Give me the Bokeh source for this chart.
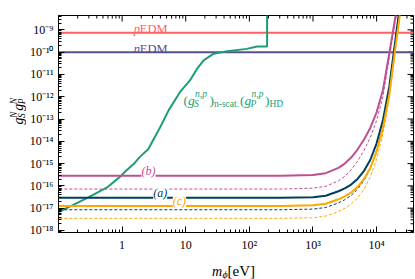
from math import pi
from bokeh.plotting import figure
from bokeh.layouts import column, row
from bokeh.models import Label, FixedTicker, CustomJSTickFormatter, Range1d
from bokeh.embed import file_html
from bokeh.resources import INLINE

# ---------------- data ----------------
edm_x = [0.05, 1e5]
pedm_y = [7.4e-10, 7.4e-10]
nedm_y = [1.0e-10, 1.0e-10]

green_x = [0.098, 0.29, 0.60, 0.93, 1.12, 1.58, 1.9, 2.57, 4.0, 5.4, 8.1, 11.7,
           15.1, 19.1, 27.5, 44.7, 91, 132, 190, 190]
green_y = [6.5e-18, 2.95e-17, 9.1e-17, 2.6e-16, 4.4e-16, 1.07e-15, 2.0e-15, 4.4e-15,
           4.5e-14, 2.5e-13, 1.6e-12, 5.5e-12, 1.8e-11, 4.3e-11, 8.5e-11, 1.1e-10,
           1.4e-10, 1.78e-10, 1.78e-10, 1e-7]

mass = [0.05, 316, 1000, 1585, 2512, 3162, 3981, 5012, 6310, 7943, 10000, 12589,
        15849, 19953, 25119]
b_solid = [2.82e-16, 2.82e-16, 3.09e-16, 3.72e-16, 6.46e-16, 1.0e-15, 1.86e-15,
           4.27e-15, 1.17e-14, 3.98e-14, 2.0e-13, 2.0e-12, 8.9e-11, 4.5e-9, 2.8e-7]
b_dashed = [7.2e-17, 7.2e-17, 7.9e-17, 9.5e-17, 1.68e-16, 2.69e-16, 5.25e-16,
            1.29e-15, 3.8e-15, 1.45e-14, 8.5e-14, 1.02e-12, 5.75e-11, 3.6e-9, 2.75e-7]
a_solid = [2.9e-17, 2.9e-17, 3.1e-17, 3.6e-17, 5.75e-17, 7.8e-17, 1.15e-16, 2.04e-16,
           4.6e-16, 1.45e-15, 8.1e-15, 9.1e-14, 2.9e-12, 4.6e-10, 5.8e-8]
a_dashed = [8.5e-18, 8.5e-18, 9.1e-18, 1.07e-17, 1.72e-17, 2.4e-17, 3.7e-17, 7.1e-17,
            1.7e-16, 6.0e-16, 4.0e-15, 5.4e-14, 2.14e-12, 4.3e-10, 6.5e-8]
c_solid = [1.26e-17, 1.26e-17, 1.35e-17, 1.58e-17, 2.5e-17, 3.4e-17, 5.0e-17, 8.9e-17,
           2.0e-16, 6.3e-16, 3.55e-15, 4.0e-14, 1.26e-12, 2.0e-10, 2.5e-8]
c_dashed = [3.5e-18, 3.5e-18, 3.7e-18, 4.4e-18, 7.0e-18, 9.8e-18, 1.51e-17, 2.9e-17,
            6.9e-17, 2.45e-16, 1.62e-15, 2.2e-14, 8.7e-13, 1.74e-10, 2.6e-8]

x_major = [1, 10, 100, 1000, 10000]
y_major = [1e-18, 1e-17, 1e-16, 1e-15, 1e-14, 1e-13, 1e-12, 1e-11, 1e-10, 1e-9]

XMIN, XMAX = 0.1, 3.8e4
YMIN, YMAX = 8.1e-19, 4.4e-9

C_A = "#003f5c"
C_B = "#bc5090"
C_C = "#ffa600"
C_P = "#ff6361"
C_N = "#58508d"
C_G = "#1b9e77"
FONT = "Liberation Serif"

x_minor = [k * 10.0 ** e for e in range(-1, 5) for k in range(2, 10)]
y_minor = [k * 10.0 ** e for e in range(-19, -8) for k in range(2, 10)]

fmt_code = """
const e = Math.round(Math.log10(tick));
if (e === 0) return "1";
if (e === 1) return "10";
const m = {"-":"\u207b","0":"\u2070","1":"\u00b9","2":"\u00b2","3":"\u00b3","4":"\u2074",
           "5":"\u2075","6":"\u2076","7":"\u2077","8":"\u2078","9":"\u2079"};
return "10" + String(e).split("").map(c => m[c]).join("");
"""

# page layout: [ylabel strip | main plot] over [xlabel strip]
# main frame in page pixels: left 58, right 413, top 15, bottom 233
YL_W = 26
MAIN_H = 254

p = figure(width=415 - YL_W, height=MAIN_H, x_axis_type="log", y_axis_type="log",
           x_range=Range1d(XMIN, XMAX), y_range=Range1d(YMIN, YMAX),
           output_backend="svg", toolbar_location=None,
           min_border_left=58 - YL_W, min_border_right=2, min_border_top=15,
           min_border_bottom=MAIN_H - 233)
p.xgrid.visible = False
p.ygrid.visible = False
p.outline_line_color = "black"
p.outline_line_width = 1
p.background_fill_color = "white"
p.border_fill_color = "white"

xt = FixedTicker(ticks=x_major, minor_ticks=x_minor)
yt = FixedTicker(ticks=y_major, minor_ticks=y_minor)
fmt = CustomJSTickFormatter(code=fmt_code)
p.xaxis.ticker = xt
p.yaxis.ticker = yt
p.xaxis.formatter = fmt
p.yaxis.formatter = fmt
for ax in p.xaxis + p.yaxis:
    ax.major_tick_in = 6
    ax.major_tick_out = 0
    ax.minor_tick_in = 3
    ax.minor_tick_out = 0
    ax.axis_line_color = "black"
    ax.major_tick_line_color = "black"
    ax.minor_tick_line_color = "black"
    ax.major_label_text_font = FONT
    ax.major_label_text_color = "black"
    ax.major_label_standoff = 5
p.xaxis.major_label_text_font_size = "12px"
p.yaxis.major_label_text_font_size = "12px"

# mirrored inward ticks on top and right edges
p.ray(x=x_major, y=[YMAX] * len(x_major), length=6, length_units="screen",
      angle=-pi / 2, line_color="black", line_width=1)
p.ray(x=x_minor, y=[YMAX] * len(x_minor), length=3, length_units="screen",
      angle=-pi / 2, line_color="black", line_width=1)
p.ray(x=[XMAX] * len(y_major), y=y_major, length=6, length_units="screen",
      angle=pi, line_color="black", line_width=1)
p.ray(x=[XMAX] * len(y_minor), y=y_minor, length=3, length_units="screen",
      angle=pi, line_color="black", line_width=1)

# ---------------- glyphs ----------------
p.line(edm_x, pedm_y, line_color=C_P, line_width=2)
p.line(edm_x, nedm_y, line_color=C_N, line_width=2)
p.line(green_x, green_y, line_color=C_G, line_width=2)

p.line(mass, b_dashed, line_color=C_B, line_width=1, line_dash="3 2")
p.line(mass, a_dashed, line_color=C_A, line_width=1, line_dash="3 2")
p.line(mass, c_dashed, line_color=C_C, line_width=1, line_dash="3 2")
p.line(mass, b_solid, line_color=C_B, line_width=2)
p.line(mass, a_solid, line_color=C_A, line_width=2)
p.line(mass, c_solid, line_color=C_C, line_width=2)

# ---------------- text inside the main frame ----------------
def txt(text, px, py, size, color="black", italic=False):
    """px, py: page position of text start / baseline."""
    p.add_layout(Label(x=px - 58, y=233 - py, x_units="screen", y_units="screen",
                       text=text, text_font=FONT, text_font_size=f"{size}px",
                       text_font_style="italic" if italic else "normal",
                       text_color=color, text_align="left", text_baseline="alphabetic"))

# EDM labels
txt("p", 133.3, 29.5, 12.5, C_P, italic=True)
txt("EDM", 139.3, 29.5, 12.5, C_P)
txt("n", 133.3, 49.3, 12.5, C_N, italic=True)
txt("EDM", 139.3, 49.3, 12.5, C_N)

# green label (g_S^{n,p})_{n-scat.} (g_P^{n,p})_{HD}
txt("(", 183, 101, 13.5, C_G)
txt("g", 187.5, 101, 13.5, C_G, italic=True)
txt("n,p", 194.5, 94.5, 9.5, C_G, italic=True)
txt("S", 193.5, 104.5, 9.5, C_G, italic=True)
txt(")", 209, 101, 13.5, C_G)
txt("n-scat.", 213.5, 104.5, 9.5, C_G)
txt("(", 239.5, 101, 13.5, C_G)
txt("g", 244, 101, 13.5, C_G, italic=True)
txt("n,p", 251, 94.5, 9.5, C_G, italic=True)
txt("P", 250, 104.5, 9.5, C_G, italic=True)
txt(")", 264.5, 101, 13.5, C_G)
txt("HD", 269, 104.5, 9.5, C_G)

# inline curve labels with white boxes
for t, xv, yv, c in [("(b)", 2.6, 2.82e-16, C_B), ("(a)", 3.96, 2.9e-17, C_A),
                     ("(c)", 7.96, 1.26e-17, C_C)]:
    p.add_layout(Label(x=xv, y=yv, y_offset=5, text=t, text_font=FONT,
                       text_font_size="12px", text_font_style="italic",
                       text_color=c, text_align="center", text_baseline="middle",
                       background_fill_color="white"))

# ---------------- axis-title strips ----------------
def strip(w, h):
    f = figure(width=w, height=h, x_range=Range1d(0, w), y_range=Range1d(0, h),
               output_backend="svg", toolbar_location=None, min_border=0,
               x_axis_location=None, y_axis_location=None)
    f.grid.visible = False
    f.outline_line_color = None
    f.background_fill_color = "white"
    f.border_fill_color = "white"
    return f

yl = strip(YL_W, MAIN_H)
def ytxt(text, px, py, size):
    yl.add_layout(Label(x=px, y=MAIN_H - py, text=text, text_font=FONT,
                        text_font_size=f"{size}px", text_font_style="italic",
                        text_color="black", angle=pi / 2,
                        text_align="left", text_baseline="alphabetic"))

ytxt("g", 18, 127.5, 14)
ytxt("N", 13, 120, 9.5)
ytxt("S", 21.5, 120, 9.5)
ytxt("g", 18, 111.5, 14)
ytxt("N", 13, 104, 9.5)
ytxt("P", 21.5, 104, 9.5)

XL_H = 279 - MAIN_H
xl = strip(415, XL_H)
def xtxt(text, px, py, size, italic):
    xl.add_layout(Label(x=px, y=279 - py, text=text, text_font=FONT,
                        text_font_size=f"{size}px",
                        text_font_style="italic" if italic else "normal",
                        text_color="black", text_align="left", text_baseline="alphabetic"))

xtxt("m", 211.5, 270.5, 14, True)
xtxt("\u03d5", 222, 273.5, 10, True)
xtxt("[eV]", 227, 270.5, 15, False)

layout = column(row(yl, p, spacing=0), xl, spacing=0)
open("out.html", "w", encoding="utf-8").write(file_html(layout, INLINE))
